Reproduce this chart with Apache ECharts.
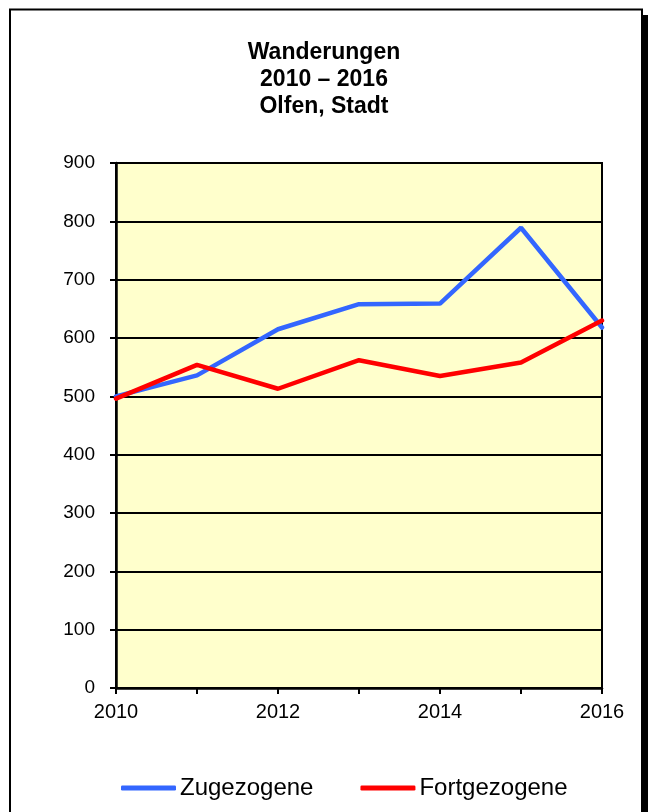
<!DOCTYPE html>
<html>
<head>
<meta charset="utf-8">
<script src="https://cdn.jsdelivr.net/npm/echarts@6/dist/echarts.min.js"></script>
<style>
html,body{margin:0;padding:0;background:#fff;}
#c{width:648px;height:812px;}
</style>
</head>
<body>
<div id="c"></div>
<script>
const years = ['2010','2011','2012','2013','2014','2015','2016'];
const zugezogene = [500, 536, 615, 658, 659, 789, 618];
const fortgezogene = [496, 554, 513, 562, 535, 558, 630];
const yTicks = {min: 0, max: 900, interval: 100};

const FONT = 'Liberation Sans, Arial, sans-serif';
const chart = echarts.init(document.getElementById('c'), null, {renderer: 'canvas'});
chart.setOption({
  animation: false,
  backgroundColor: '#ffffff',
  graphic: [
    {type: 'rect', z: -10, silent: true, shape: {x: 16, y: 15, width: 634, height: 820}, style: {fill: '#000'}},
    {type: 'rect', z: -9, silent: true, shape: {x: 10, y: 9.5, width: 632, height: 820}, style: {fill: '#fff', stroke: '#000', lineWidth: 2}}
  ],
  title: {
    text: 'Wanderungen\n2010 – 2016\nOlfen, Stadt',
    left: 'center',
    top: 34,
    textStyle: {fontFamily: FONT, fontSize: 23, fontWeight: 'bold', color: '#000', lineHeight: 27}
  },
  legend: {
    top: 770,
    left: 116,
    itemGap: 47,
    itemWidth: 55,
    itemHeight: 5,
    icon: 'roundRect',
    textStyle: {fontFamily: FONT, fontSize: 24, color: '#000', lineHeight: 26, padding: [0,0,0,-1]},
    data: ['Zugezogene', 'Fortgezogene']
  },
  grid: {
    left: 116, right: 46, top: 163, bottom: 124,
    show: true, backgroundColor: '#FFFFCC', borderColor: '#000', borderWidth: 2
  },
  xAxis: {
    type: 'category',
    data: years,
    boundaryGap: false,
    axisLine: {lineStyle: {color: '#000', width: 2.5}},
    axisTick: {show: true, interval: 0, length: 6, lineStyle: {color: '#000', width: 2}},
    axisLabel: {interval: 1, margin: 14, fontFamily: FONT, fontSize: 20, color: '#000'}
  },
  yAxis: {
    type: 'value',
    min: yTicks.min, max: yTicks.max, interval: yTicks.interval,
    axisLine: {show: true, lineStyle: {color: '#000', width: 2.5}},
    axisTick: {show: true, length: 6, lineStyle: {color: '#000', width: 2}},
    axisLabel: {margin: 21, fontFamily: FONT, fontSize: 19, color: '#000'},
    splitLine: {show: true, lineStyle: {color: '#000', width: 2}}
  },
  series: [
    {name: 'Zugezogene', type: 'line', data: zugezogene, symbol: 'none', lineStyle: {color: '#3366FF', width: 4.5, cap: 'round'}, itemStyle: {color: '#3366FF'}},
    {name: 'Fortgezogene', type: 'line', data: fortgezogene, symbol: 'none', lineStyle: {color: '#FF0000', width: 4.5, cap: 'round'}, itemStyle: {color: '#FF0000'}}
  ]
});
</script>
</body>
</html>
